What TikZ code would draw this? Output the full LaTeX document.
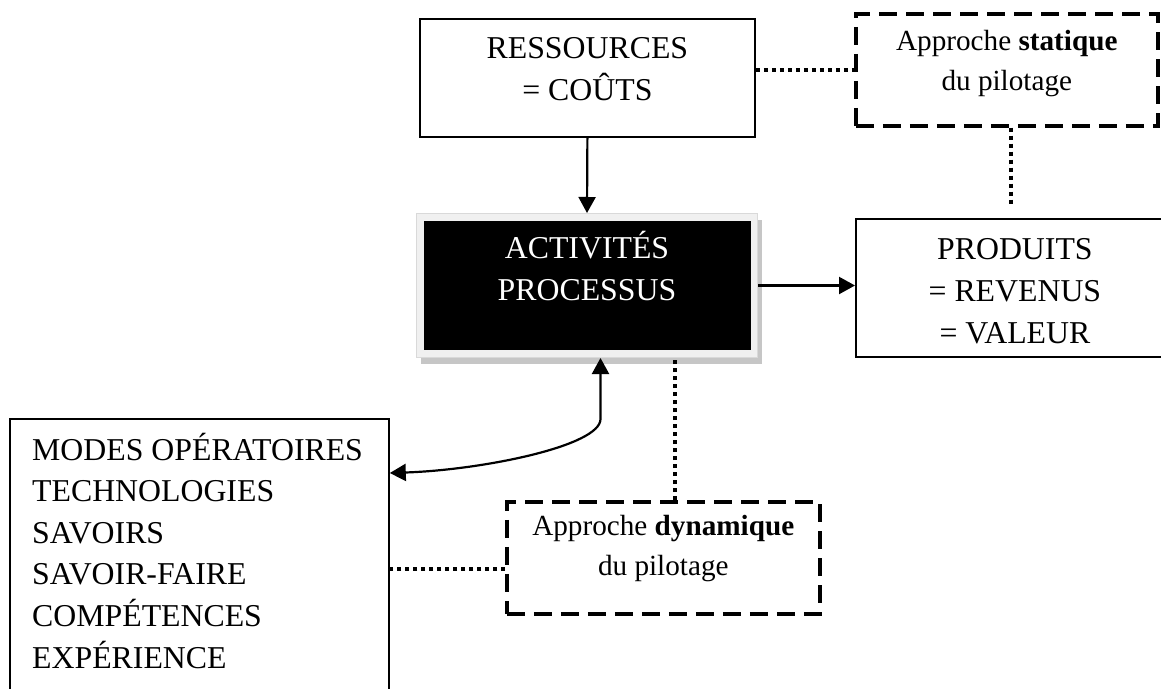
\documentclass[tikz,border=0pt]{standalone}
\usepackage{fontspec}
\setmainfont{Liberation Serif}
\usetikzlibrary{arrows.meta,calc,shadows}
\tikzset{
  frame/.style={draw=black, line width=1.8pt, inner sep=0pt, anchor=north west},
  dashframe/.style={draw=black, line width=3.6pt, dash pattern=on 18pt off 9pt, inner sep=0pt, anchor=north west},
  % anchor=base sits on the baseline of the last line
  boxtext/.style={align=center, inner sep=0pt, anchor=base, font=\fontsize{31.8}{42}\selectfont},
  notetext/.style={align=center, inner sep=0pt, anchor=base, font=\fontsize{29.2}{39.5}\selectfont},
  arr/.style={line width=2.2pt, -{Triangle[length=16pt,width=17pt]}},
  biarr/.style={line width=2.2pt, {Triangle[length=16pt,width=17pt]}-{Triangle[length=16pt,width=17pt]}},
  dotline/.style={line width=3.8pt, dash pattern=on 4.5pt off 3.5pt},
}
\begin{document}
\begin{tikzpicture}[x=1pt,y=-1pt]
\useasboundingbox (0,0) rectangle (1161,688);

% resources box
\node[frame, minimum width=335pt, minimum height=118pt] (res) at (419,18) {};
\node[boxtext] (restxt) at ($(res.north)+(0,82)$) {RESSOURCES\\= COÛTS};

% static steering note
\node[dashframe, minimum width=302pt, minimum height=112pt] (stat) at (854,12) {};
\node[notetext] (stattxt) at ($(stat.north)+(0,78)$) {Approche \textbf{statique}\\du pilotage};

% activities box: light frame with shadow, black core
\node[draw=gray!30, fill=gray!12, line width=1pt, inner sep=0pt, anchor=north west,
      minimum width=341pt, minimum height=144pt,
      drop shadow={shadow xshift=4pt, shadow yshift=-6pt, fill=gray!45, opacity=1}] (act) at (416,213) {};
\node[fill=black, inner sep=0pt, minimum width=327pt, minimum height=129pt] (actcore) at (act.center) {};
\node[boxtext, text=white] (acttxt) at ($(act.north)+(0,87)$) {ACTIVITÉS\\PROCESSUS};

% products box
\node[frame, minimum width=310pt, minimum height=138pt] (prod) at (855,218) {};
\node[boxtext] (prodtxt) at ($(prod.north)+(4,125)$) {PRODUITS\\= REVENUS\\= VALEUR};

% know-how box
\node[frame, minimum width=379pt, minimum height=300pt] (mod) at (9,418) {};
\node[align=left, inner sep=0pt, anchor=base west, font=\fontsize{31.8}{41.6}\selectfont] (modtxt)
  at ($(mod.north west)+(23,250)$)
  {MODES OPÉRATOIRES\\TECHNOLOGIES\\SAVOIRS\\SAVOIR-FAIRE\\COMPÉTENCES\\EXPÉRIENCE};

% dynamic steering note
\node[dashframe, minimum width=313pt, minimum height=112pt] (dyn) at (505,500) {};
\node[notetext] (dyntxt) at ($(dyn.north)+(0,75)$) {Approche \textbf{dynamique}\\du pilotage};

% arrows
\draw[arr] (res.south) -- (act.north);
\draw[arr] (act.east) -- (act.east -| prod.west);
\coordinate (actin) at ($(act.south)+(13.5,0)$);
\coordinate (modin) at ($(mod.north east)+(0,55)$);
\draw[biarr] (actin) -- ($(actin)+(0,61)$) .. controls ($(actin)+(0,88)$) and ($(modin)+(92,-3)$) .. (modin);

% dotted links
\draw[dotline] (res.east |- stat.west) -- (stat.west);
\coordinate (statdrop) at (1011,205);
\draw[dotline] (stat.south -| statdrop) -- (statdrop);
\coordinate (dyntop) at ($(dyn.north)+(11.5,0)$);
\draw[dotline] (dyntop) -- ($(dyntop |- act.south)+(0,2)$);
\coordinate (dynleft) at ($(dyn.west)+(0,11)$);
\draw[dotline] (dynleft) -- (dynleft -| mod.east);
\end{tikzpicture}
\end{document}
